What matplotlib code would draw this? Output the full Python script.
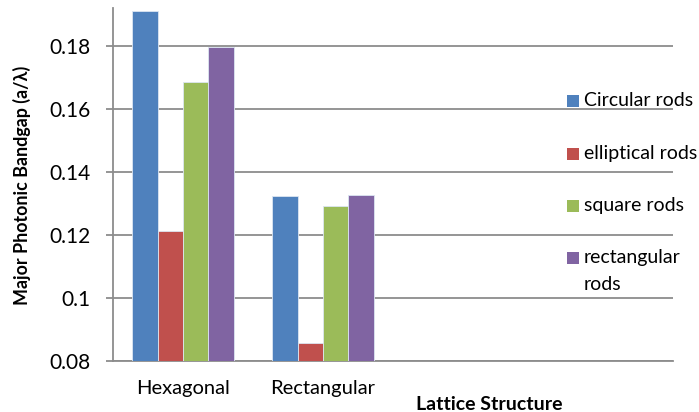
import matplotlib
matplotlib.use("Agg")
import matplotlib.pyplot as plt
from matplotlib.patches import Rectangle
import numpy as np

plt.rcParams['font.family'] = ['Lato', 'DejaVu Sans']

# Lattice categories (two empty slots keep the chart's spacing)
categories = ["Hexagonal", "Rectangular", "", ""]
series_names = ["Circular rods", "elliptical rods", "square rods", "rectangular\nrods"]
circular = [0.1912, 0.1325, np.nan, np.nan]
elliptical = [0.1213, 0.0856, np.nan, np.nan]
square = [0.1686, 0.1292, np.nan, np.nan]
rectangular = [0.1798, 0.1328, np.nan, np.nan]
colors = ["#4F81BD", "#C0504D", "#9BBB59", "#8064A2"]
y_ticks = [0.08, 0.10, 0.12, 0.14, 0.16, 0.18]
y_tick_labels = ["0.08", "0.1", "0.12", "0.14", "0.16", "0.18"]

W, H = 699, 412
fig = plt.figure(figsize=(W / 100, H / 100), dpi=100)
ax = fig.add_axes([113 / W, 1 - 361 / H, 560 / W, 353 / H])

ymin = 0.08
x = np.arange(len(categories))
bw = 0.182
values = [circular, elliptical, square, rectangular]
for i, (vals, c) in enumerate(zip(values, colors)):
    v = np.array(vals, dtype=float)
    ax.bar(x + (i - 1.5) * bw, v - ymin, bottom=ymin, width=bw, color=c,
           edgecolor="#dce6f2", linewidth=0.6, zorder=3)

ax.set_xlim(-0.5, len(categories) - 0.5)
ax.set_ylim(ymin, 0.19206)
ax.set_yticks(y_ticks)
ax.set_yticklabels(y_tick_labels)
ax.set_xticks(x[:2])
ax.set_xticklabels(categories[:2])

ax.yaxis.grid(True, color="#8c8c8c", linewidth=1.3, zorder=0)
ax.set_axisbelow(True)
for s in ["top", "right"]:
    ax.spines[s].set_visible(False)
for s in ["left", "bottom"]:
    ax.spines[s].set_color("#8c8c8c")
    ax.spines[s].set_linewidth(1.3)

ax.tick_params(axis="y", length=5, width=1.3, color="#8c8c8c", pad=11,
               labelsize=15, labelcolor="black")
ax.tick_params(axis="x", length=0, pad=14, labelsize=14.5, labelcolor="black")

fig.text(22 / W, 1 - 185 / H, "Major Photonic Bandgap (a/\u03bb)", rotation=90,
         ha="center", va="center", fontsize=12.9, fontweight="bold")
fig.text(489 / W, 1 - 404 / H, "Lattice Structure", ha="center",
         va="center", fontsize=14, fontweight="bold")

# Legend: colour squares with series names, drawn in figure pixels
legend_rows = [101, 154, 206, 258]
line_gap = 26
for name, c, yc in zip(series_names, colors, legend_rows):
    fig.patches.append(Rectangle((567 / W, 1 - (yc + 6) / H), 12 / W, 12 / H,
                                 transform=fig.transFigure, facecolor=c,
                                 edgecolor="none"))
    for k, line in enumerate(name.split("\n")):
        fig.text(584 / W, 1 - (yc + k * line_gap) / H, line, ha="left",
                 va="center", fontsize=14)

fig.savefig("out.png", dpi=100)
